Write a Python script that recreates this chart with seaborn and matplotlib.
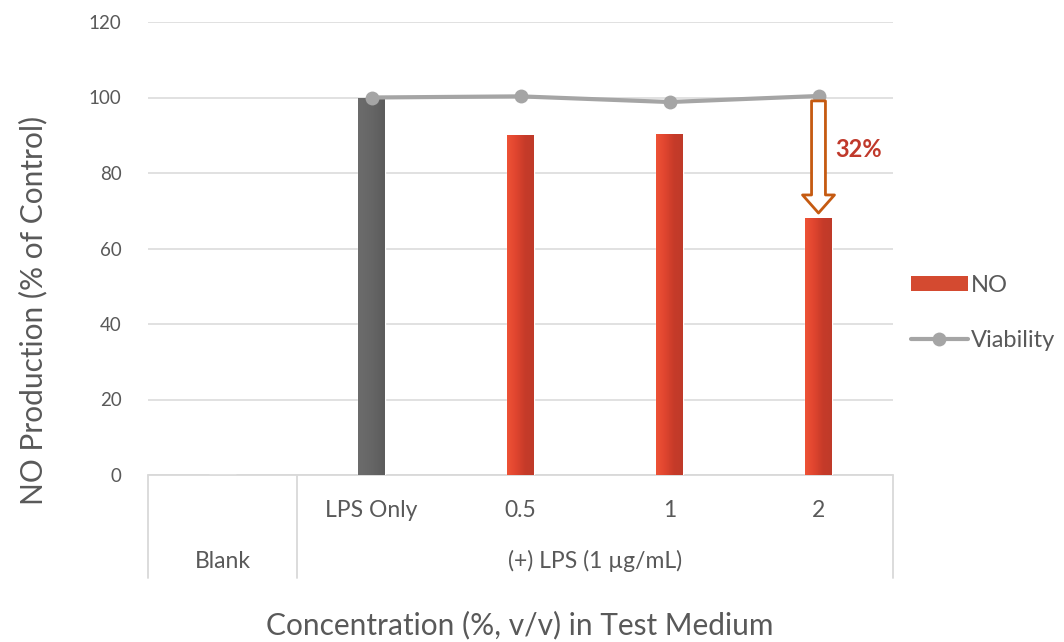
import numpy as np
import pandas as pd
import matplotlib
matplotlib.use("Agg")
import matplotlib.pyplot as plt
from matplotlib.patches import FancyArrowPatch, Patch
from matplotlib.lines import Line2D
from matplotlib.colors import LinearSegmentedColormap
import seaborn as sns

# Data
groups = ["Blank", "LPS Only", "0.5", "1", "2"]
no_production = [0.0, 100.0, 90.1, 90.3, 68.1]
viability = [np.nan, 100.0, 100.3, 98.8, 100.4]
yticks = [0, 20, 40, 60, 80, 100, 120]
reduction_label = "32%"
group_label = "(+) LPS (1 µg/mL)"

sns.set_theme(style="white")
plt.rcParams["font.family"] = ["Lato", "DejaVu Sans"]

TEXT = "#595959"
GRID = "#d9d9d9"

df = pd.DataFrame({"group": groups, "NO": no_production, "Viability": viability,
                   "pos": np.arange(len(groups))})

fig = plt.figure(figsize=(10.64, 6.42), dpi=100)
ax = fig.add_axes([148 / 1064, 1 - 475 / 642, 745 / 1064, 453 / 642])

bar_colors = {"Blank": "#d0402a", "LPS Only": "#626262", "0.5": "#d0402a",
              "1": "#d0402a", "2": "#d0402a"}
sns.barplot(data=df, x="group", y="NO", hue="group", palette=bar_colors,
            width=0.175, legend=False, ax=ax, saturation=1, zorder=2)

ax.set_xlim(-0.5, 4.5)
ax.set_ylim(0, 120)

# Horizontal shading across each bar
red_cmap = LinearSegmentedColormap.from_list("red", ["#ee5236", "#e0452f", "#c63b29", "#bf3a29"])
grey_cmap = LinearSegmentedColormap.from_list("grey", ["#6c6c6c", "#666666", "#5c5c5c"])
grad = np.linspace(0, 1, 64).reshape(1, -1)
for patch, g in zip(ax.patches, groups):
    h = patch.get_height()
    if h <= 0:
        continue
    x0 = patch.get_x()
    w = patch.get_width()
    cmap = grey_cmap if g == "LPS Only" else red_cmap
    im = ax.imshow(grad, cmap=cmap, aspect="auto", extent=[x0, x0 + w, 0, h],
                   zorder=2.5, interpolation="bilinear")
    im.set_clip_path(patch)
ax.set_xlim(-0.5, 4.5)
ax.set_ylim(0, 120)

# Viability line
sns.lineplot(data=df.dropna(), x="pos", y="Viability", color="#a5a5a5", lw=3.0,
             marker="o", markersize=10, markeredgewidth=0, ax=ax, zorder=4,
             legend=False)

# Gridlines and ticks
ax.set_yticks(yticks)
ax.set_yticklabels([str(t) for t in yticks], color=TEXT, fontsize=13.5)
ax.tick_params(axis="y", length=0, pad=19)
ax.set_xticks([])
ax.grid(axis="y", color=GRID, lw=1.1, zorder=0)
ax.set_axisbelow(True)
for s in ax.spines.values():
    s.set_visible(False)
ax.set_xlabel("")
ax.set_ylabel("")

# Category table beneath the axis
box_bottom = -27.3
line_kw = dict(color=GRID, lw=1.3, clip_on=False, zorder=1)
ax.plot([-0.5, 4.5], [0, 0], **line_kw)
for xv in (-0.5, 0.5, 4.5):
    ax.plot([xv, xv], [0, box_bottom], **line_kw)

for i, g in enumerate(groups[1:], start=1):
    ax.text(i, -9.4, g, ha="center", va="center", color=TEXT, fontsize=16.5, clip_on=False)
ax.text(0, -22.9, "Blank", ha="center", va="center", color=TEXT, fontsize=16.5, clip_on=False)
ax.text(2.5, -22.9, group_label, ha="center", va="center", color=TEXT, fontsize=16.5,
        clip_on=False)

# Reduction arrow and label
arrow = FancyArrowPatch((4, 99.1), (4, 69.4),
                        arrowstyle="simple,head_length=0.65,head_width=1.15,tail_width=0.5",
                        mutation_scale=20, facecolor="white", edgecolor="#c55a11",
                        lw=2.0, shrinkA=0, shrinkB=0, zorder=5)
ax.add_patch(arrow)
ax.text(4.11, 86.1, reduction_label, ha="left", va="center", color="#c0392b",
        fontsize=17, fontweight="bold")

# Axis titles
fig.text(33 / 1064, 1 - 310 / 642, "NO Production (% of Control)", rotation=90,
         ha="center", va="center", color=TEXT, fontsize=21.5)
fig.text(520 / 1064, 1 - 625 / 642, "Concentration (%, v/v) in Test Medium",
         ha="center", va="center", color=TEXT, fontsize=21.5)

# Legend
handles = [Patch(facecolor="#d44a30", edgecolor="none"),
           Line2D([0], [0], color="#a5a5a5", lw=3.0, marker="o", markersize=10,
                  markeredgewidth=0)]
leg = fig.legend(handles, ["NO", "Viability"], loc="center left",
                 bbox_to_anchor=(911 / 1064, 1 - 313 / 642), frameon=False,
                 fontsize=17, labelcolor=TEXT, handlelength=2.4, handleheight=0.65,
                 handletextpad=0.15, labelspacing=1.45, borderaxespad=0, borderpad=0)

fig.savefig("out.png", dpi=100, facecolor="white")
